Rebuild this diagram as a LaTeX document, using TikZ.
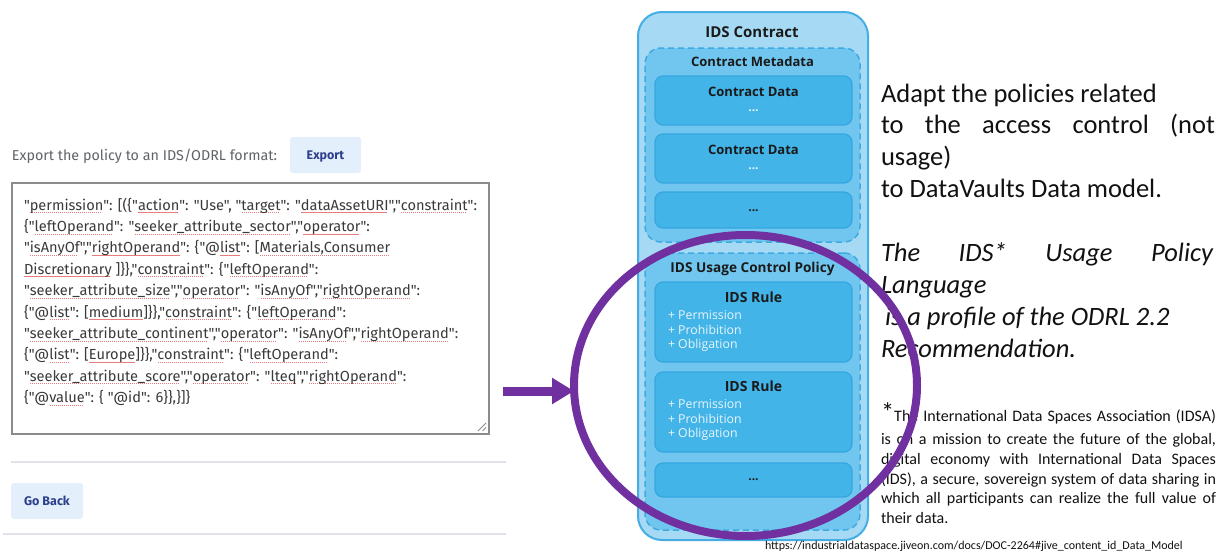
\documentclass[tikz,border=0pt]{standalone}
\usepackage{fontspec}
\usetikzlibrary{shapes.geometric,arrows.meta}
\setmainfont{Carlito}
\newfontfamily\uifont{Fira Sans}
\newfontfamily\ocfont{Open Sans}
\definecolor{uigray}{HTML}{606368}
\definecolor{uitext}{HTML}{3A3A3A}
\definecolor{btnfill}{HTML}{E3F0FC}
\definecolor{btntext}{HTML}{2C3E8C}
\definecolor{areaborder}{HTML}{8C8C8C}
\definecolor{sepcol}{HTML}{E2E2EA}
\definecolor{squig}{HTML}{E87C7C}
\definecolor{outerfill}{HTML}{A6DAF4}
\definecolor{outerline}{HTML}{45ADE3}
\definecolor{midfill}{HTML}{70C6EE}
\definecolor{midline}{HTML}{3FA9E2}
\definecolor{innerfill}{HTML}{42B4E8}
\definecolor{innerline}{HTML}{36A6E0}
\definecolor{octext}{HTML}{1A1A1A}
\definecolor{ocwhite}{HTML}{E9F6FD}
\definecolor{purplec}{HTML}{7030A0}
\definecolor{bodytext}{HTML}{111111}
\newsavebox\sqbox
\newcommand\sq[1]{\sbox\sqbox{#1}\rlap{\color{squig}\leaders\hbox to 2pt{\hss\rule[-3pt]{1.3pt}{0.8pt}\hss}\hskip\wd\sqbox}\usebox\sqbox}
\begin{document}
\begin{tikzpicture}[x=1pt,y=-1pt,
  every node/.style={inner sep=0pt,outer sep=0pt},
  uibtn/.style={rectangle,fill=btnfill,rounded corners=3pt,minimum width=#1,minimum height=36pt},
  btnlabel/.style={anchor=base,font=\uifont\bfseries\fontsize{12.5}{14}\selectfont,text=btntext},
  arealine/.style={anchor=base west,font=\uifont\fontsize{14.6}{16}\selectfont,text=uitext},
  sepline/.style={draw=sepcol,line width=1.5pt},
  outerbox/.style={rectangle,draw=outerline,line width=2pt,fill=outerfill,rounded corners=24pt},
  midbox/.style={rectangle,draw=midline,line width=1.5pt,dash pattern=on 6pt off 4pt,fill=midfill,rounded corners=16pt,minimum width=215pt},
  innerbox/.style={rectangle,draw=innerline,line width=1.2pt,fill=innerfill,rounded corners=8pt,minimum width=197pt},
  octitle/.style={anchor=base,font=\ocfont\bfseries\fontsize{#1}{#1}\selectfont,text=octext},
  ocitem/.style={anchor=base west,font=\ocfont\fontsize{12.3}{12}\selectfont,text=ocwhite},
  ocdots/.style={anchor=center,font=\ocfont\bfseries\fontsize{12}{12}\selectfont,text=#1},
  bigline/.style={anchor=base west,font=\fontsize{26.5}{31.7}\selectfont,text=bodytext},
  itline/.style={anchor=base west,font=\itshape\fontsize{26.5}{31.7}\selectfont,text=bodytext},
  fnline/.style={anchor=base west,font=\fontsize{16}{20}\selectfont,text=bodytext},
  ring/.style={ellipse,draw=purplec,line width=8pt,minimum width=343pt,minimum height=301pt},
  bigarrow/.style={draw=purplec,line width=9pt,-{Triangle[length=22pt,width=25pt]}}
  ]
\useasboundingbox (0,0) rectangle (1218,554);
\fill[white] (0,0) rectangle (1218,554);

% ---------- left UI ----------
\node[anchor=base west,font=\uifont\fontsize{14.3}{15}\selectfont,text=uigray] (exportlabel) at (12,160) {Export the policy to an IDS/ODRL format:};
\node[uibtn=71pt] (exportbtn) at (325.5,155) {};
\node[btnlabel] (exporttxt) at (325.5,159.5) {Export};
\node[rectangle,draw=areaborder,line width=1.5pt,fill=white,minimum width=477pt,minimum height=251pt] (area) at (250.5,308.5) {};
\draw[areaborder,line width=0.8pt] (486,423) -- (478,431) (486,427.5) -- (482.5,431);

\node[arealine] (a1) at (24,210) {"\sq{permission}": [(\{"\sq{action}": "Use", "\sq{target}": "\sq{dataAssetURI}","\sq{constraint}":};
\node[arealine] (a2) at (24,231.4) {\{"\sq{leftOperand}": "\sq{seeker\_attribute\_sector}","\sq{operator}":};
\node[arealine] (a3) at (24,252.8) {"\sq{isAnyOf}","\sq{rightOperand}": \{"@\sq{list}": [\sq{Materials,Consumer}};
\node[arealine] (a4) at (24,274.2) {\sq{Discretionary} ]\}\},"\sq{constraint}": \{"\sq{leftOperand}":};
\node[arealine] (a5) at (24,295.6) {"\sq{seeker\_attribute\_size}","\sq{operator}": "\sq{isAnyOf}","\sq{rightOperand}":};
\node[arealine] (a6) at (24,317) {\{"@\sq{list}": [\sq{medium}]\}\},"\sq{constraint}": \{"\sq{leftOperand}":};
\node[arealine] (a7) at (24,338.4) {"\sq{seeker\_attribute\_continent}","\sq{operator}": "\sq{isAnyOf}","\sq{rightOperand}":};
\node[arealine] (a8) at (24,359.8) {\{"@\sq{list}": [\sq{Europe}]\}\},"\sq{constraint}": \{"\sq{leftOperand}":};
\node[arealine] (a9) at (24,381.2) {"\sq{seeker\_attribute\_score}","\sq{operator}": "\sq{lteq}","\sq{rightOperand}":};
\node[arealine] (a10) at (24,402.6) {\{"@\sq{value}": \{ "@id": 6\}\},\}]\}};

\draw[sepline] (11,462) -- (506,462);
\node[uibtn=72pt] (backbtn) at (47,501) {};
\node[btnlabel] (backtxt) at (47,505.5) {Go Back};
\draw[sepline] (3,534) -- (506,534);

% ---------- IDS contract ----------
\node[outerbox,minimum width=230pt,minimum height=528pt] (contract) at (753,276) {};
\node[octitle=15] (ctitle) at (752,37.7) {IDS Contract};
\node[midbox,minimum height=194pt] (meta) at (752.5,145) {};
\node[octitle=13] (metatitle) at (752.5,66.7) {Contract Metadata};
\node[innerbox,minimum height=49pt] (cd1) at (753.5,100.5) {};
\node[octitle=13] (cd1t) at (753.5,96) {Contract Data};
\node[ocdots=ocwhite] (cd1d) at (753.5,110.7) {...};
\node[innerbox,minimum height=49pt] (cd2) at (753.5,158.5) {};
\node[octitle=13] (cd2t) at (753.5,154) {Contract Data};
\node[ocdots=ocwhite] (cd2d) at (753.5,169) {...};
\node[innerbox,minimum height=36pt] (cd3) at (753.5,210) {};
\node[ocdots=octext] (cd3d) at (753.5,210.7) {...};

\node[midbox,minimum height=277pt] (policy) at (752.5,391.5) {};
\node[octitle=13.6] (policyt) at (752.5,272.3) {IDS Usage Control Policy};
\node[innerbox,minimum height=80pt] (r1) at (753.5,322) {};
\node[octitle=14] (r1t) at (753.5,302.3) {IDS Rule};
\node[ocitem] (r1a) at (668,319) {+ Permission};
\node[ocitem] (r1b) at (668,334) {+ Prohibition};
\node[ocitem] (r1c) at (668,348.5) {+ Obligation};
\node[innerbox,minimum height=80pt] (r2) at (753.5,412) {};
\node[octitle=14] (r2t) at (753.5,391.7) {IDS Rule};
\node[ocitem] (r2a) at (668,408.5) {+ Permission};
\node[ocitem] (r2b) at (668,423.3) {+ Prohibition};
\node[ocitem] (r2c) at (668,437.8) {+ Obligation};
\node[innerbox,minimum height=34pt] (r3) at (753.5,480) {};
\node[ocdots=octext] (r3d) at (753.5,480) {...};

% ---------- right text ----------
\node[bigline] (t1) at (881,102) {Adapt the policies related};
\node[bigline] (t2) at (881,133.5) {\makebox[334pt][s]{to the access control (not}};
\node[bigline] (t3) at (881,165) {usage)};
\node[bigline] (t4) at (881,197) {to DataVaults Data model.};

\node[itline] (i1) at (881,261) {\makebox[332pt][s]{The IDS* Usage Policy}};
\node[itline] (i2) at (881,293) {Language};
\node[itline] (i3) at (881,325) {\hspace{4pt}is a profile of the ODRL 2.2};
\node[itline] (i4) at (881,357) {Recommendation.};

\node[fnline] (f1) at (881,421) {\makebox[335pt][s]{{\fontsize{26.5}{26.5}\selectfont *}The International Data Spaces Association (IDSA)}};
\node[fnline] (f2) at (881,444) {\makebox[335pt][s]{is on a mission to create the future of the global,}};
\node[fnline] (f3) at (881,464) {\makebox[335pt][s]{digital economy with International Data Spaces}};
\node[fnline] (f4) at (881,484) {\makebox[335pt][s]{(IDS), a secure, sovereign system of data sharing in}};
\node[fnline] (f5) at (881,503.5) {\makebox[335pt][s]{which all participants can realize the full value of}};
\node[fnline] (f6) at (881,523) {their data.};

\node[anchor=base west,font=\fontsize{12}{12}\selectfont,text=bodytext] (url) at (765,549) {https://industrialdataspace.jiveon.com/docs/DOC-2264\#jive\_content\_id\_Data\_Model};

% ---------- highlight ----------
\node[ring] (circ) at (745.5,385.5) {};
\coordinate (arrstart) at (503,391);
\draw[bigarrow] (arrstart) -- (arrstart -| circ.west);
\end{tikzpicture}
\end{document}
